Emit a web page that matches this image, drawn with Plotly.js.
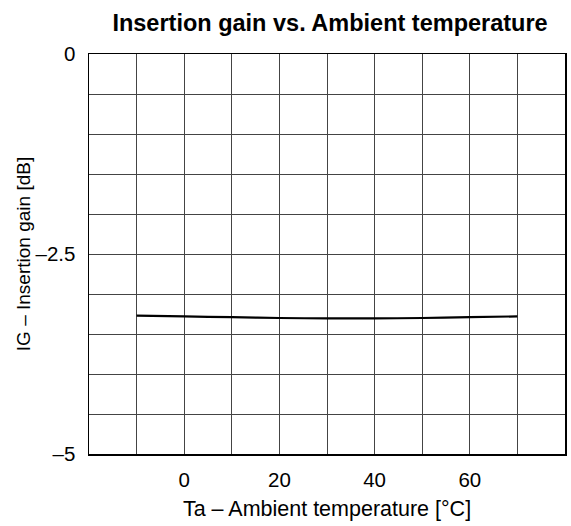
<!DOCTYPE html>
<html>
<head>
<meta charset="utf-8">
<script src="https://cdn.plot.ly/plotly-3.0.1.min.js"></script>
<style>html,body{margin:0;padding:0;background:#fff;}#chart{width:571px;height:526px;}</style>
</head>
<body>
<div id="chart"></div>
<script>
const temperature = [-10, 0, 10, 20, 30, 40, 50, 60, 70];
const insertionGain = [-3.27, -3.28, -3.29, -3.30, -3.305, -3.305, -3.30, -3.29, -3.28];

const xTickVals = [-20, -10, 0, 10, 20, 30, 40, 50, 60, 70, 80];
const xTickText = ["", "", "0", "", "20", "", "40", "", "60", "", ""];
const yTickVals = [0, -0.5, -1, -1.5, -2, -2.5, -3, -3.5, -4, -4.5, -5];
const yTickText = ["0", "", "", "", "", "–2.5", "", "", "", "", "–5"];

const font = "Liberation Sans, Arial, sans-serif";

Plotly.newPlot("chart", [{
  x: temperature,
  y: insertionGain,
  type: "scatter",
  mode: "lines",
  line: {color: "#000", width: 2.2, shape: "spline"},
  hoverinfo: "skip"
}], {
  width: 571, height: 526,
  margin: {l: 89, r: 6, t: 54, b: 72},
  paper_bgcolor: "#fff",
  plot_bgcolor: "#fff",
  showlegend: false,
  title: {text: "<b>Insertion gain vs. Ambient temperature</b>", font: {family: font, size: 23.5, color: "#000"}, x: 0.578, xanchor: "center", y: 0.957, yanchor: "middle"},
  xaxis: {
    range: [-20, 80], tickmode: "array", tickvals: xTickVals, ticktext: xTickText,
    showgrid: true, gridcolor: "#444", gridwidth: 1, zeroline: false,
    showline: true, linecolor: "#000", linewidth: 1.5, mirror: true,
    ticks: "", ticklabelstandoff: 7,
    tickfont: {family: font, size: 20.5, color: "#000"},
    title: {text: "Ta – Ambient temperature [°C]", font: {family: font, size: 21.5, color: "#000"}, standoff: 11}
  },
  yaxis: {
    range: [-5, 0], tickmode: "array", tickvals: yTickVals, ticktext: yTickText,
    showgrid: true, gridcolor: "#444", gridwidth: 1, zeroline: false,
    showline: true, linecolor: "#000", linewidth: 1.5, mirror: true,
    ticks: "", ticklabelstandoff: 8,
    tickfont: {family: font, size: 20.5, color: "#000"},
    title: {text: "IG – Insertion gain [dB]", font: {family: font, size: 19, color: "#000"}, standoff: 0}
  }
}, {staticPlot: true});
</script>
</body>
</html>
